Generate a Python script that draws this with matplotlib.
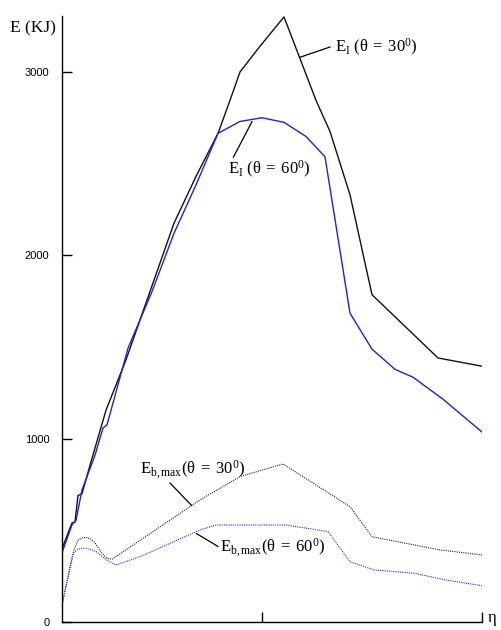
import numpy as np
import matplotlib
matplotlib.use("Agg")
import matplotlib.pyplot as plt

plt.rcParams['mathtext.fontset'] = 'custom'
plt.rcParams['mathtext.rm'] = 'Liberation Serif'
plt.rcParams['mathtext.it'] = 'Liberation Serif:italic'

# E_I, theta = 30 deg
eta_i30 = [0.0, 0.05, 0.065, 0.08, 0.10, 0.14, 0.22, 0.32, 0.56, 0.67, 0.78,
           0.84, 0.89, 0.99, 1.11, 1.27, 1.34, 1.44, 1.55, 1.88, 2.10]
e_i30 = [400, 540, 545, 690, 700, 855, 1155, 1430, 2175, 2430, 2665,
         2845, 3000, 3140, 3300, 2845, 2675, 2330, 1785, 1440, 1395]

# E_I, theta = 60 deg
eta_i60 = [0.0, 0.05, 0.07, 0.10, 0.165, 0.205, 0.225, 0.33, 0.45, 0.56, 0.67,
           0.78, 0.89, 1.0, 1.11, 1.22, 1.315, 1.44, 1.55, 1.665, 1.755, 1.905, 2.10]
e_i60 = [378, 530, 555, 720, 910, 1058, 1075, 1493, 1802, 2120, 2384,
         2665, 2730, 2750, 2725, 2648, 2537, 1684, 1488, 1378, 1335, 1215, 1036]

# E_b,max, theta = 30 deg
eta_b30 = [0.0, 0.03, 0.057, 0.08, 0.10, 0.12, 0.145, 0.165, 0.20, 0.225, 0.25,
           0.69, 0.89, 1.105, 1.44, 1.55, 1.89, 2.10]
e_b30 = [93, 250, 384, 447, 458, 462, 452, 431, 375, 347, 342,
         666, 793, 862, 629, 465, 393, 366]

# E_b,max, theta = 60 deg
eta_b60 = [0.0, 0.03, 0.057, 0.08, 0.10, 0.12, 0.145, 0.17, 0.22, 0.27, 0.39,
           0.69, 0.77, 1.12, 1.33, 1.44, 1.56, 1.76, 1.92, 2.10]
e_b60 = [93, 240, 376, 397, 402, 402, 395, 384, 340, 311, 356,
         502, 529, 529, 493, 329, 284, 266, 229, 198]

y_ticks = [0, 1000, 2000, 3000]
x_ticks = [1.0, 2.1]

# curve labels: text, text anchor, leader line start/end
labels = [
    (r'$\mathrm{E_I\ (\theta\;=\;30^0)}$', (1.365, 3136), (1.19, 3080), (1.34, 3136)),
    (r'$\mathrm{E_I\ (\theta\;=\;60^0)}$', (0.83, 2466), (0.95, 2729), (0.857, 2535)),
    (r'$\mathrm{E_{b,max}(\theta\;=\;30^0)}$', (0.39, 829), (0.6485, 635), (0.54, 758)),
    (r'$\mathrm{E_{b,max}(\theta\;=\;60^0)}$', (0.79, 404), (0.673, 482), (0.78, 412)),
]

fig = plt.figure(figsize=(5.01, 6.30), dpi=100)
ax = fig.add_axes([62 / 501, 8 / 630, 420 / 501, 606 / 630])

ax.plot(eta_i30, e_i30, color='#111111', lw=1.0)
ax.plot(eta_i60, e_i60, color='#2020dd', lw=1.0)
ax.plot(eta_b30, e_b30, color='#222222', lw=0.8, linestyle=(0, (1, 1)))
ax.plot(eta_b60, e_b60, color='#2a2ae0', lw=0.8, linestyle=(0, (1, 1)))

for txt, pos, p0, p1 in labels:
    ax.plot([p0[0], p1[0]], [p0[1], p1[1]], color='black', lw=0.9)
    ax.text(pos[0], pos[1], txt, fontsize=12, ha='left', va='center')

ax.set_xlim(0, 2.1)
ax.set_ylim(0, 3305)
ax.spines['top'].set_visible(False)
ax.spines['right'].set_visible(False)
for s in ['left', 'bottom']:
    ax.spines[s].set_linewidth(1.0)

ax.set_yticks(y_ticks)
ax.set_yticklabels([str(v) for v in y_ticks], fontsize=8, family='Liberation Sans')
ax.set_xticks(x_ticks)
ax.set_xticklabels(['', ''])
ax.tick_params(axis='both', direction='in', length=7, width=1.0)
ax.tick_params(axis='y', pad=9)

fig.text(10 / 501, 1 - 28 / 630, 'E (KJ)', fontsize=12.5, family='Liberation Serif',
         ha='left', va='center')
fig.text(488 / 501, 1 - 618 / 630, 'η', fontsize=12, family='Liberation Serif',
         ha='left', va='center')

fig.savefig('out.png', dpi=100)
